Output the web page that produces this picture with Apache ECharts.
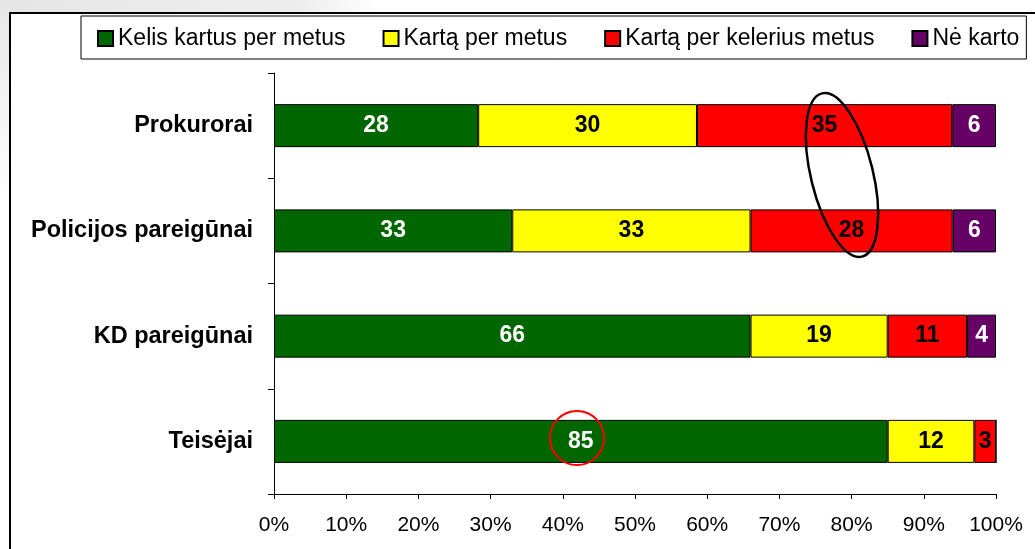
<!DOCTYPE html>
<html>
<head>
<meta charset="utf-8">
<script src="https://cdn.jsdelivr.net/npm/echarts@6/dist/echarts.min.js"></script>
<style>
html, body { margin: 0; padding: 0; background: #fff; }
#chart { width: 1035px; height: 549px; }
</style>
</head>
<body>
<div id="chart"></div>
<script>
var categories = ['Prokurorai', 'Policijos pareigūnai', 'KD pareigūnai', 'Teisėjai'];
var seriesNames = ['Kelis kartus per metus', 'Kartą per metus', 'Kartą per kelerius metus', 'Nė karto'];
var kelisKartus = [28, 33, 66, 85];
var kartaPerMetus = [30, 33, 19, 12];
var kartaPerKelerius = [35, 28, 11, 3];
var neKarto = [6, 6, 4, 0];
var xTicks = [0, 10, 20, 30, 40, 50, 60, 70, 80, 90, 100];

var colors = ['#006600', '#ffff00', '#ff0000', '#660066'];
var labelColors = ['#ffffff', '#000000', '#000000', '#ffffff'];
var FONT = 'Liberation Sans, Arial, sans-serif';

var raw = [kelisKartus, kartaPerMetus, kartaPerKelerius, neKarto];
// 100% stacked: each row is scaled to its own total
var totals = categories.map(function (c, i) {
	var s = 0;
	raw.forEach(function (arr) { s += arr[i]; });
	return s;
});

var series = raw.map(function (arr, k) {
	return {
		name: seriesNames[k],
		type: 'bar',
		stack: 'total',
		barWidth: 43,
		itemStyle: { color: colors[k], borderColor: '#000', borderWidth: 1 },
		label: {
			show: true,
			position: 'inside',
			color: labelColors[k],
			fontFamily: FONT,
			fontSize: 23,
			fontWeight: 'bold',
			formatter: function (p) {
				var v = arr[p.dataIndex];
				return v ? String(v) : '';
			}
		},
		data: arr.map(function (v, i) { return v / totals[i] * 100; })
	};
});

var chart = echarts.init(document.getElementById('chart'));
var option = {
	animation: false,
	backgroundColor: '#fff',
	color: colors,
	legend: {
		left: 81,
		top: 16,
		padding: [11, 7, 9, 16],
		icon: 'rect',
		itemWidth: 15,
		itemHeight: 15,
		itemGap: 37,
		borderColor: '#000',
		borderWidth: 1,
		textStyle: { fontFamily: FONT, fontSize: 23, color: '#000' },
		data: seriesNames
	},
	grid: { left: 274, right: 39, top: 73, bottom: 55 },
	xAxis: {
		type: 'value',
		min: 0,
		max: 100,
		interval: 10,
		splitLine: { show: false },
		axisLine: { show: true, lineStyle: { color: '#000', width: 1 } },
		axisTick: { show: true, length: 5, lineStyle: { color: '#000' } },
		axisLabel: {
			margin: 21,
			color: '#000',
			fontFamily: FONT,
			fontSize: 21,
			formatter: function (v) { return xTicks.indexOf(v) >= 0 ? v + '%' : ''; }
		}
	},
	yAxis: {
		type: 'category',
		inverse: true,
		data: categories,
		axisLine: { show: true, lineStyle: { color: '#000', width: 1 } },
		axisTick: { show: true, length: 6, lineStyle: { color: '#000' } },
		axisLabel: {
			margin: 21,
			color: '#000',
			fontFamily: FONT,
			fontSize: 23.5,
			fontWeight: 'bold'
		}
	},
	graphic: [
		{
			type: 'rect', z: -10, silent: true,
			shape: { x: 0, y: 0, width: 380, height: 12 },
			style: {
				fill: new echarts.graphic.LinearGradient(0, 0, 1, 0, [
					{ offset: 0, color: '#e6e6e6' },
					{ offset: 0.8, color: '#eeeeee' },
					{ offset: 1, color: '#ffffff' }
				])
			}
		},
		{
			type: 'rect', z: -10, silent: true,
			shape: { x: 0, y: 0, width: 9, height: 200 },
			style: {
				fill: new echarts.graphic.LinearGradient(0, 0, 0, 1, [
					{ offset: 0, color: '#e6e6e6' },
					{ offset: 1, color: '#ffffff' }
				])
			}
		},
		{
			type: 'rect', silent: true,
			shape: { x: 10, y: 13, width: 1040, height: 560 },
			style: { fill: null, stroke: '#000', lineWidth: 2 }
		},
		{
			type: 'ellipse', silent: true, z: 100,
			x: 842, y: 175,
			rotation: 0.24,
			shape: { cx: 0, cy: 0, rx: 31, ry: 84 },
			style: { fill: null, stroke: '#000', lineWidth: 2.5 }
		},
		{
			type: 'circle', silent: true, z: 100,
			shape: { cx: 577, cy: 438, r: 27 },
			style: { fill: null, stroke: '#ff0000', lineWidth: 2 }
		}
	],
	series: series
};
chart.setOption(option);
</script>
</body>
</html>
